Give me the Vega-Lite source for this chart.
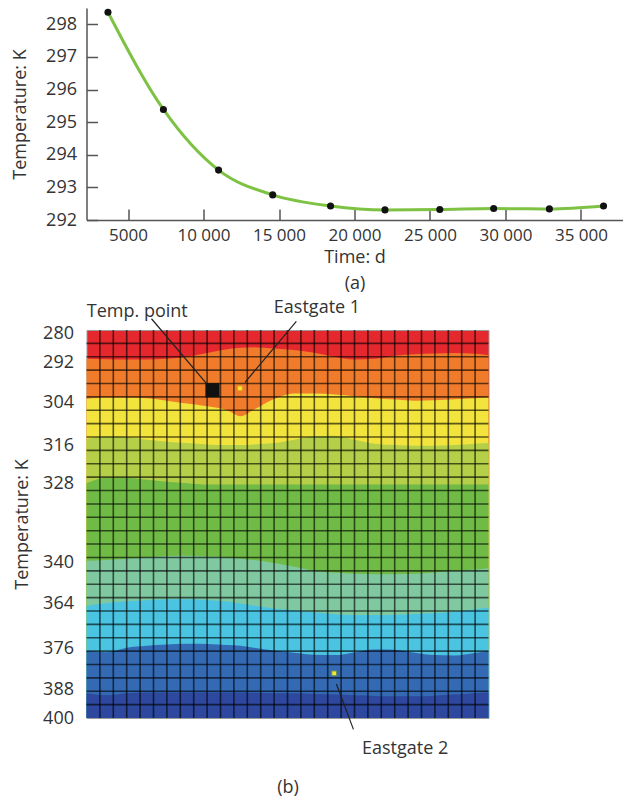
{
  "$schema": "https://vega.github.io/schema/vega-lite/v6.json",
  "padding": {"left": 11.5, "top": 6, "right": 0, "bottom": 0},
  "columns": 1,
  "align": "none",
  "spacing": 6,
  "config": {
    "font": "Open Sans",
    "view": {"stroke": null},
    "axis": {"labelFont": "Open Sans", "titleFont": "Open Sans", "labelColor": "#333", "titleColor": "#333", "titleFontWeight": "normal", "domainColor": "#555", "tickColor": "#555", "grid": false},
    "text": {"color": "#333", "font": "Open Sans"}
  },
  "datasets": {
    "line": [
      {"t": 3672, "T": 298.37},
      {"t": 7344, "T": 295.39},
      {"t": 10996, "T": 293.53},
      {"t": 14582, "T": 292.77},
      {"t": 18413, "T": 292.43},
      {"t": 22018, "T": 292.31},
      {"t": 25650, "T": 292.32},
      {"t": 29217, "T": 292.35},
      {"t": 32908, "T": 292.34},
      {"t": 36494, "T": 292.43}
    ],
    "bounds": [
      {"c": 0, "b1": 2.15, "b2": 5.15, "b3": 8.15, "b4": 11.45, "b5": 17.25, "b6": 20.62, "b7": 23.99, "b8": 27.15},
      {"c": 1.5, "b1": 2.18, "b2": 5.05, "b3": 7.95, "b4": 11.05, "b5": 17.2, "b6": 20.4, "b7": 24.08, "b8": 27.3},
      {"c": 3, "b1": 2.2, "b2": 5.05, "b3": 8.0, "b4": 11.05, "b5": 17.1, "b6": 20.28, "b7": 23.75, "b8": 27.15},
      {"c": 4.5, "b1": 2.2, "b2": 5.1, "b3": 8.2, "b4": 11.2, "b5": 17.0, "b6": 20.2, "b7": 23.6, "b8": 27.1},
      {"c": 6, "b1": 2.15, "b2": 5.28, "b3": 8.35, "b4": 11.35, "b5": 16.9, "b6": 20.13, "b7": 23.5, "b8": 27.1},
      {"c": 7.5, "b1": 2.0, "b2": 5.5, "b3": 8.45, "b4": 11.45, "b5": 16.88, "b6": 20.12, "b7": 23.45, "b8": 27.1},
      {"c": 9, "b1": 1.72, "b2": 5.7, "b3": 8.55, "b4": 11.55, "b5": 16.93, "b6": 20.18, "b7": 23.47, "b8": 27.1},
      {"c": 10.5, "b1": 1.43, "b2": 6.0, "b3": 8.6, "b4": 11.55, "b5": 17.0, "b6": 20.3, "b7": 23.54, "b8": 27.1},
      {"c": 11.5, "b1": 1.32, "b2": 6.45, "b3": 8.6, "b4": 11.55, "b5": 17.1, "b6": 20.45, "b7": 23.6, "b8": 27.1},
      {"c": 12.5, "b1": 1.28, "b2": 5.95, "b3": 8.55, "b4": 11.55, "b5": 17.2, "b6": 20.6, "b7": 23.75, "b8": 27.12},
      {"c": 14, "b1": 1.38, "b2": 5.15, "b3": 8.45, "b4": 11.55, "b5": 17.42, "b6": 20.82, "b7": 23.95, "b8": 27.15},
      {"c": 15.5, "b1": 1.5, "b2": 4.75, "b3": 8.2, "b4": 11.55, "b5": 17.7, "b6": 20.95, "b7": 24.12, "b8": 27.15},
      {"c": 17, "b1": 1.7, "b2": 4.75, "b3": 7.95, "b4": 11.55, "b5": 18.0, "b6": 21.1, "b7": 24.28, "b8": 27.2},
      {"c": 18.5, "b1": 2.0, "b2": 4.82, "b3": 7.9, "b4": 11.55, "b5": 18.15, "b6": 21.25, "b7": 24.3, "b8": 27.25},
      {"c": 20, "b1": 2.2, "b2": 4.95, "b3": 8.2, "b4": 11.55, "b5": 18.22, "b6": 21.3, "b7": 24.1, "b8": 27.3},
      {"c": 21.5, "b1": 2.15, "b2": 5.1, "b3": 8.5, "b4": 11.55, "b5": 18.25, "b6": 21.3, "b7": 23.88, "b8": 27.35},
      {"c": 23, "b1": 1.92, "b2": 5.2, "b3": 8.6, "b4": 11.55, "b5": 18.25, "b6": 21.28, "b7": 23.9, "b8": 27.38},
      {"c": 24.5, "b1": 1.82, "b2": 5.28, "b3": 8.65, "b4": 11.55, "b5": 18.22, "b6": 21.22, "b7": 24.12, "b8": 27.38},
      {"c": 26, "b1": 1.76, "b2": 5.25, "b3": 8.65, "b4": 11.55, "b5": 18.12, "b6": 21.15, "b7": 24.3, "b8": 27.33},
      {"c": 27.5, "b1": 1.72, "b2": 5.18, "b3": 8.6, "b4": 11.55, "b5": 18.0, "b6": 21.05, "b7": 24.33, "b8": 27.25},
      {"c": 29, "b1": 1.78, "b2": 5.1, "b3": 8.5, "b4": 11.55, "b5": 17.9, "b6": 20.88, "b7": 24.15, "b8": 27.15},
      {"c": 30, "b1": 1.88, "b2": 5.05, "b3": 8.45, "b4": 11.55, "b5": 17.8, "b6": 20.75, "b7": 24.0, "b8": 27.1}
    ],
    "gx": [{"c":1},{"c":2},{"c":3},{"c":4},{"c":5},{"c":6},{"c":7},{"c":8},{"c":9},{"c":10},{"c":11},{"c":12},{"c":13},{"c":14},{"c":15},{"c":16},{"c":17},{"c":18},{"c":19},{"c":20},{"c":21},{"c":22},{"c":23},{"c":24},{"c":25},{"c":26},{"c":27},{"c":28},{"c":29}],
    "gy": [{"r":1},{"r":2},{"r":3},{"r":4},{"r":5},{"r":6},{"r":7},{"r":8},{"r":9},{"r":10},{"r":11},{"r":12},{"r":13},{"r":14},{"r":15},{"r":16},{"r":17},{"r":18},{"r":19},{"r":20},{"r":21},{"r":22},{"r":23},{"r":24},{"r":25},{"r":26},{"r":27},{"r":28}],
    "leaders": [
      {"c1": 4.85, "d1": -0.84, "c2": 9.09, "d2": 4.15},
      {"c1": 11.83, "d1": 3.91, "c2": 15.66, "d2": -0.64},
      {"c1": 18.65, "d1": 26.46, "c2": 19.92, "d2": 29.85}
    ],
    "sites": [
      {"name": "Eastgate 1", "c": 11.45, "d": 4.36, "fill": "#f6e92e", "stroke": "#e89a2a"},
      {"name": "Eastgate 2", "c": 18.48, "d": 25.66, "fill": "#f6e92e", "stroke": "#6d8f5a"}
    ],
    "tpoint": [{"name": "Temp. point", "c": 9.4, "d": 4.5}],
    "notes": [
      {"label": "Temp. point", "c": 3.79, "d": -1.38},
      {"label": "Eastgate 1", "c": 17.2, "d": -1.61},
      {"label": "Eastgate 2", "c": 23.78, "d": 31.33}
    ]
  },
  "concat": [
    {
      "width": 536,
      "height": 212,
      "data": {"name": "line"},
      "encoding": {
        "x": {"field": "t", "type": "quantitative", "scale": {"domain": [2250, 37750], "nice": false, "zero": false},
          "axis": {"values": [5000, 10000, 15000, 20000, 25000, 30000, 35000], "labelExpr": "datum.value < 10000 ? format(datum.value, 'd') : replace(format(datum.value, ','), ',', ' ')", "tickSize": -11, "tickWidth": 1.5, "domainWidth": 1.5, "labelFontSize": 17, "labelPadding": 18, "title": ["Time: d", "(a)"], "titleFontSize": 18, "titleLineHeight": 26, "titlePadding": 5}},
        "y": {"field": "T", "type": "quantitative", "scale": {"domain": [292, 298.5], "nice": false, "zero": false},
          "axis": {"values": [292, 293, 294, 295, 296, 297, 298], "tickSize": -11, "tickWidth": 1.5, "domainWidth": 1.5, "labelFontSize": 18, "labelPadding": 21, "title": "Temperature: K", "titleFontSize": 18, "titlePadding": 16}}
      },
      "layer": [
        {"mark": {"type": "line", "color": "#7dc242", "strokeWidth": 3, "interpolate": "monotone"}},
        {"mark": {"type": "point", "filled": true, "color": "#111", "size": 50, "opacity": 1}}
      ]
    },
    {
      "width": 402,
      "height": 388,
      "view": {"fill": "#e5282e", "stroke": "#9a9a9a", "strokeWidth": 1},
      "layer": [
        {"data": {"name": "bounds"}, "mark": {"type": "area", "color": "#ef7b2b", "interpolate": "monotone", "opacity": 1},
          "encoding": {
            "x": {"field": "c", "type": "quantitative", "scale": {"domain": [0, 30], "nice": false, "zero": false},
              "axis": {"labels": false, "ticks": false, "domain": false, "title": "(b)", "titleFontSize": 18, "titlePadding": 60}},
            "y": {"field": "b1", "type": "quantitative", "scale": {"domain": [0, 29], "nice": false, "zero": false, "reverse": true},
              "axis": {"values": [0.26, 2.43, 5.43, 8.65, 11.49, 17.4, 20.47, 23.84, 26.9, 29], "labelExpr": "datum.value == 0.26 ? '280' : datum.value == 2.43 ? '292' : datum.value == 5.43 ? '304' : datum.value == 8.65 ? '316' : datum.value == 11.49 ? '328' : datum.value == 17.4 ? '340' : datum.value == 20.47 ? '364' : datum.value == 23.84 ? '376' : datum.value == 26.9 ? '388' : '400'", "ticks": false, "domain": false, "labelFontSize": 18, "labelPadding": 13, "title": "Temperature: K", "titleFontSize": 18, "titlePadding": 11}},
            "y2": {"datum": 29}
          }},
        {"data": {"name": "bounds"}, "mark": {"type": "area", "color": "#f2e43c", "interpolate": "monotone", "opacity": 1},
          "encoding": {"x": {"field": "c", "type": "quantitative"}, "y": {"field": "b2", "type": "quantitative"}, "y2": {"datum": 29}}},
        {"data": {"name": "bounds"}, "mark": {"type": "area", "color": "#b5cf48", "interpolate": "monotone", "opacity": 1},
          "encoding": {"x": {"field": "c", "type": "quantitative"}, "y": {"field": "b3", "type": "quantitative"}, "y2": {"datum": 29}}},
        {"data": {"name": "bounds"}, "mark": {"type": "area", "color": "#70bb46", "interpolate": "monotone", "opacity": 1},
          "encoding": {"x": {"field": "c", "type": "quantitative"}, "y": {"field": "b4", "type": "quantitative"}, "y2": {"datum": 29}}},
        {"data": {"name": "bounds"}, "mark": {"type": "area", "color": "#80c9a0", "interpolate": "monotone", "opacity": 1},
          "encoding": {"x": {"field": "c", "type": "quantitative"}, "y": {"field": "b5", "type": "quantitative"}, "y2": {"datum": 29}}},
        {"data": {"name": "bounds"}, "mark": {"type": "area", "color": "#4bc4e2", "interpolate": "monotone", "opacity": 1},
          "encoding": {"x": {"field": "c", "type": "quantitative"}, "y": {"field": "b6", "type": "quantitative"}, "y2": {"datum": 29}}},
        {"data": {"name": "bounds"}, "mark": {"type": "area", "color": "#3469b4", "interpolate": "monotone", "opacity": 1},
          "encoding": {"x": {"field": "c", "type": "quantitative"}, "y": {"field": "b7", "type": "quantitative"}, "y2": {"datum": 29}}},
        {"data": {"name": "bounds"}, "mark": {"type": "area", "color": "#2d489e", "interpolate": "monotone", "opacity": 1},
          "encoding": {"x": {"field": "c", "type": "quantitative"}, "y": {"field": "b8", "type": "quantitative"}, "y2": {"datum": 29}}},
        {"data": {"name": "gx"}, "mark": {"type": "rule", "color": "#000", "opacity": 0.62, "strokeWidth": 1.6},
          "encoding": {"x": {"field": "c", "type": "quantitative"}}},
        {"data": {"name": "gy"}, "mark": {"type": "rule", "color": "#000", "opacity": 0.62, "strokeWidth": 1.6},
          "encoding": {"y": {"field": "r", "type": "quantitative"}}},
        {"data": {"name": "leaders"}, "mark": {"type": "rule", "color": "#222", "strokeWidth": 1.2},
          "encoding": {"x": {"field": "c1", "type": "quantitative"}, "y": {"field": "d1", "type": "quantitative"}, "x2": {"field": "c2"}, "y2": {"field": "d2"}}},
        {"data": {"name": "tpoint"}, "mark": {"type": "point", "shape": "square", "filled": true, "color": "#111", "size": 200, "opacity": 1},
          "encoding": {"x": {"field": "c", "type": "quantitative"}, "y": {"field": "d", "type": "quantitative"}}},
        {"data": {"name": "sites"}, "mark": {"type": "point", "shape": "square", "filled": true, "size": 22, "opacity": 1, "strokeWidth": 1},
          "encoding": {"x": {"field": "c", "type": "quantitative"}, "y": {"field": "d", "type": "quantitative"},
            "fill": {"field": "fill", "type": "nominal", "scale": null}, "stroke": {"field": "stroke", "type": "nominal", "scale": null}}},
        {"data": {"name": "notes"}, "mark": {"type": "text", "fontSize": 18, "color": "#333", "align": "center", "baseline": "middle"},
          "encoding": {"x": {"field": "c", "type": "quantitative"}, "y": {"field": "d", "type": "quantitative"}, "text": {"field": "label"}}}
      ]
    }
  ]
}
